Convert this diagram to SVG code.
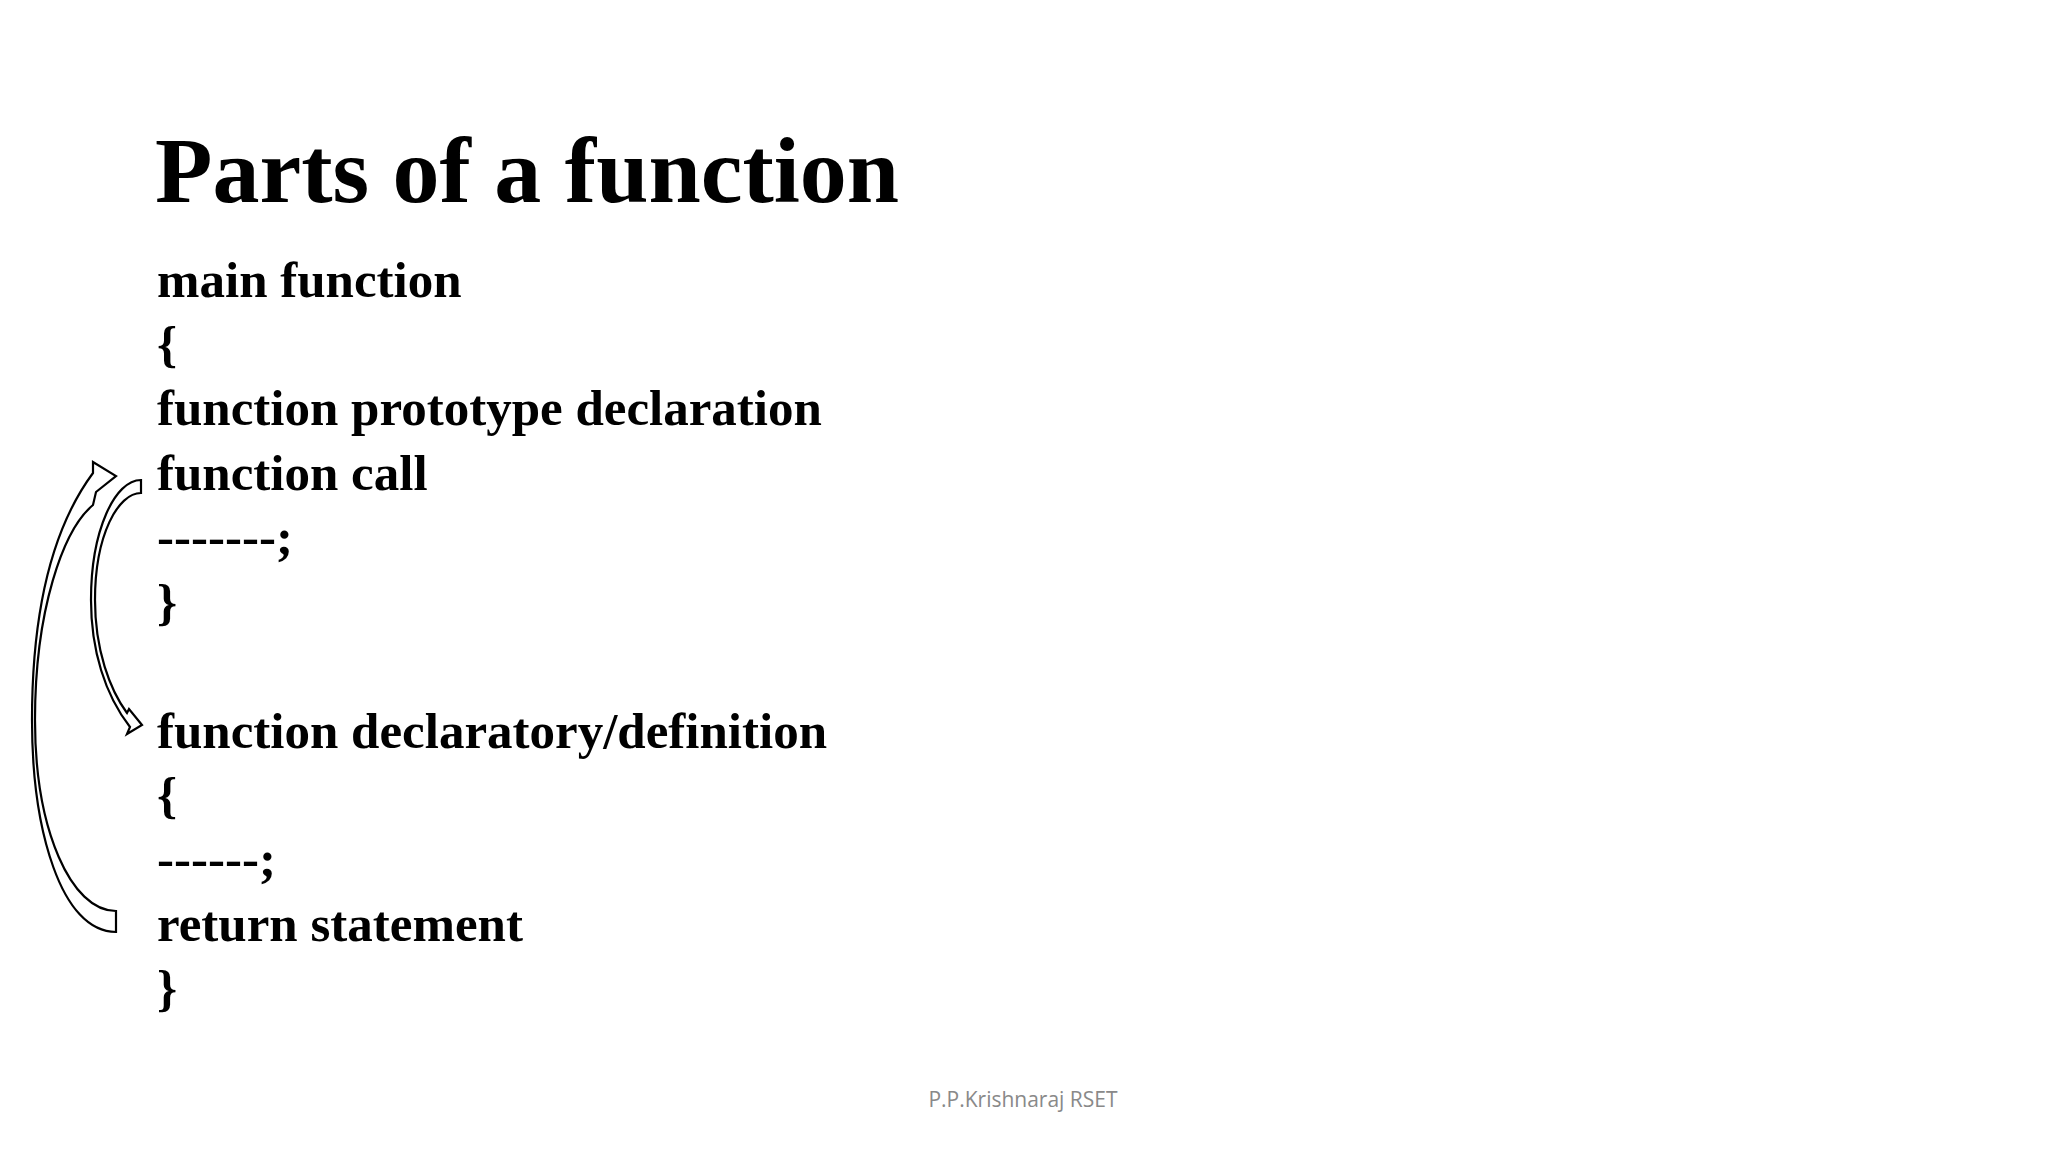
<svg xmlns="http://www.w3.org/2000/svg" width="2048" height="1152" viewBox="0 0 2048 1152">
<style>
.title{font-family:"Liberation Serif","Times New Roman",serif;font-weight:bold;font-size:94px;fill:#000}
.body{font-family:"Liberation Serif","Times New Roman",serif;font-weight:bold;font-size:51px;fill:#000}
.foot{font-family:"Open Sans","Liberation Sans",sans-serif;font-size:21px;fill:#898989}
.arrow{fill:#fff;stroke:#000;stroke-width:2.2;stroke-linejoin:miter}
</style>
<rect width="2048" height="1152" fill="#fff"/>
<g id="title"><text class="title" x="155" y="202">Parts of a function</text></g>
<g id="code">
<text class="body" x="157" y="297">main function</text>
<text class="body" x="157" y="361">{</text>
<text class="body" x="157" y="425">function prototype declaration</text>
<text class="body" x="157" y="490">function call</text>
<text class="body" x="157" y="554">-------;</text>
<text class="body" x="157" y="619">}</text>
<text class="body" x="157" y="748">function declaratory/definition</text>
<text class="body" x="157" y="812">{</text>
<text class="body" x="157" y="876">------;</text>
<text class="body" x="157" y="941">return statement</text>
<text class="body" x="157" y="1005">}</text>
</g>
<g id="connectors">
<path id="return-arrow" class="arrow" d="M116,932 C61,932 32,830 32,720 C32,610 53,527 93,473 L93,462 L116,476 L96,492 L93,505 C63,530 35,610 35,720 C35,830 71,911 116,911 Z"/>
<path id="call-arrow" class="arrow" d="M141,480 C115,480 91,530 91,600 C91,650 105,695 130,727 L127,734 L142,725 L129,709 L127,713 C110,690 95,650 95,600 C95,535 118,493 141,493 Z"/>
</g>
<g id="footer"><text class="foot" x="1023" y="1107" text-anchor="middle">P.P.Krishnaraj RSET</text></g>
</svg>
